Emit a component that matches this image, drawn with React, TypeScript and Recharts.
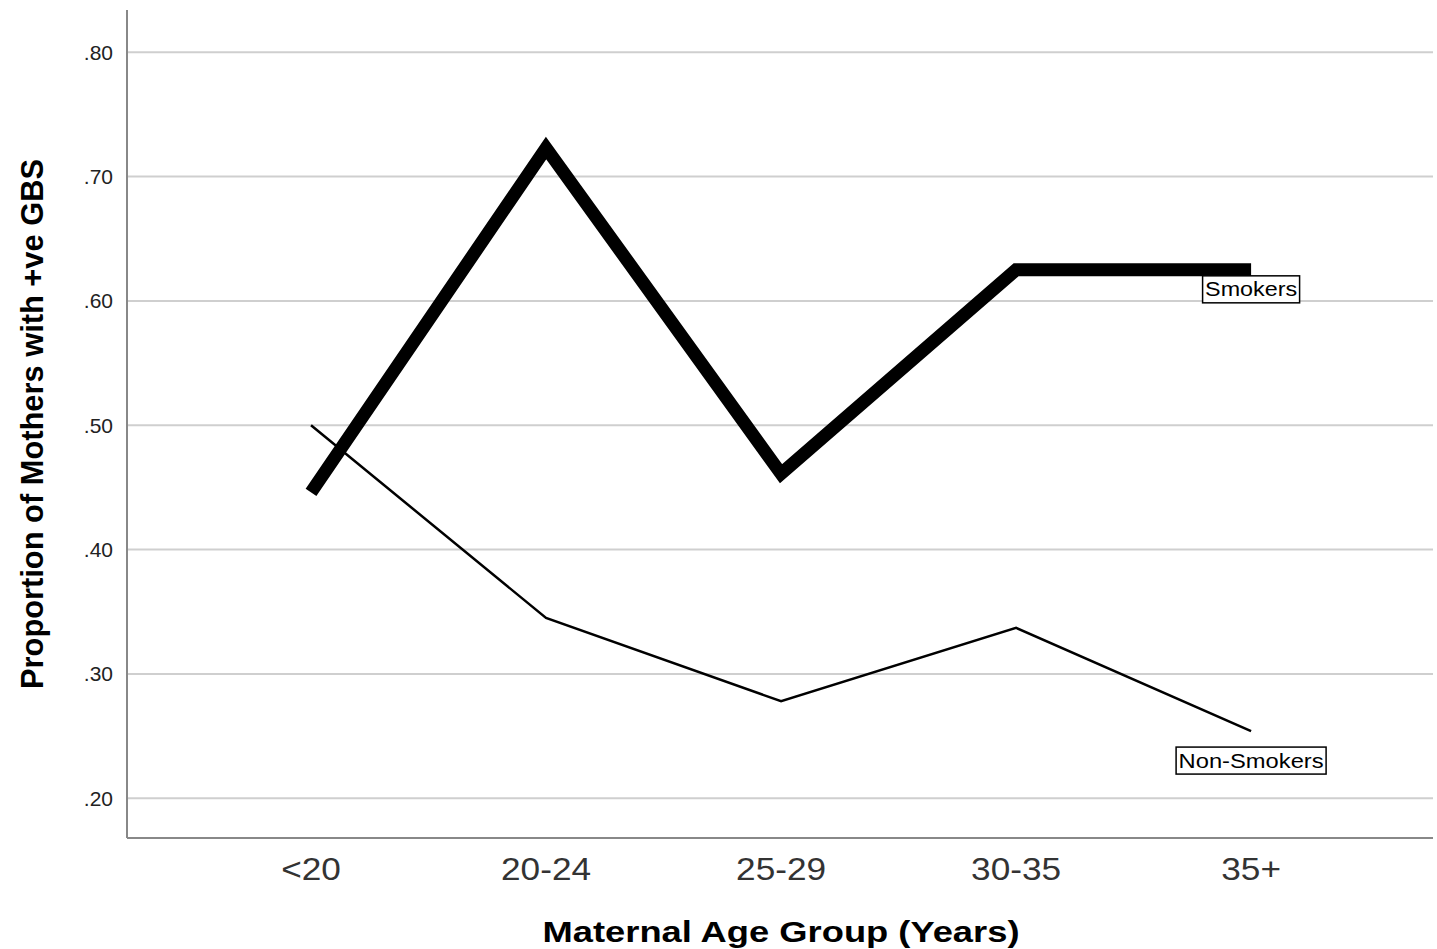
import React from 'react';
import { LineChart, Line, XAxis, YAxis, CartesianGrid, LabelList } from 'recharts';

if (typeof document !== 'undefined') {
  document.body.style.margin = '0';
}

const categories = ['<20', '20-24', '25-29', '30-35', '35+'];
const smokers = [0.446, 0.723, 0.461, 0.625, 0.625];
const nonSmokers = [0.5, 0.345, 0.278, 0.337, 0.254];
const yTicks = [0.2, 0.3, 0.4, 0.5, 0.6, 0.7, 0.8];

const data = categories.map((c, i) => ({
  idx: i,
  cat: c,
  smokers: smokers[i],
  nonSmokers: nonSmokers[i],
}));

const FONT = '"Liberation Sans", Arial, sans-serif';

const makeEndLabel = (text: string, w: number, dy: number) => (props: any) => {
  const { x, y, index } = props;
  if (index !== categories.length - 1) return null;
  const h = 27;
  return (
    <g>
      <rect x={x - w / 2} y={y + dy} width={w} height={h} fill="#fff" stroke="#000" strokeWidth={1.5} />
      <text
        x={x}
        y={y + dy + h / 2 + 7}
        textAnchor="middle"
        fontFamily={FONT}
        fontSize={20}
        fill="#000"
        textLength={w - 5}
        lengthAdjust="spacingAndGlyphs"
      >
        {text}
      </text>
    </g>
  );
};

const XTick = (props: any) => {
  const { x, y, payload } = props;
  return (
    <g transform={`translate(${x}, ${y})`}>
      <text
        x={0}
        y={0}
        dy={22}
        textAnchor="middle"
        fontFamily={FONT}
        fontSize={32}
        fill="#333"
        transform="scale(1.1, 1)"
      >
        {categories[payload.value]}
      </text>
    </g>
  );
};

export default function App() {
  return (
    <div style={{ width: 1437, height: 949, background: '#fff' }}>
      <LineChart width={1437} height={949} data={data} margin={{ top: 10, right: 4, bottom: 0, left: 0 }}>
        <CartesianGrid
          horizontal
          vertical={false}
          syncWithTicks
          stroke="#cfcfcf"
          strokeWidth={2}
        />
        <XAxis
          dataKey="idx"
          type="number"
          domain={[-0.783, 4.774]}
          ticks={[0, 1, 2, 3, 4]}
          height={111}
          axisLine={{ stroke: '#888', strokeWidth: 2 }}
          tickLine={false}
          tick={<XTick />}
          tickMargin={14}
          allowDataOverflow
          label={(p: any) => {
            const vb = p.viewBox || {};
            return (
              <text
                x={(vb.x ?? 127) + (vb.width ?? 1306) / 2 + 1}
                y={942}
                textAnchor="middle"
                fontFamily={FONT}
                fontWeight="bold"
                fontSize={29}
                fill="#000"
                textLength={477}
                lengthAdjust="spacingAndGlyphs"
              >
                Maternal Age Group (Years)
              </text>
            );
          }}
        />
        <YAxis
          type="number"
          domain={[0.168, 0.834]}
          ticks={yTicks}
          allowDataOverflow
          width={127}
          axisLine={{ stroke: '#888', strokeWidth: 2 }}
          tickLine={false}
          tickMargin={8}
          tick={{ fontFamily: FONT, fontSize: 21, fill: '#222' }}
          tickFormatter={(v: number) => v.toFixed(2).replace(/^0/, '')}
          label={(p: any) => {
            const vb = p.viewBox || {};
            const cy = (vb.y ?? 10) + (vb.height ?? 828) / 2;
            return (
              <text
                x={43}
                y={cy}
                transform={`rotate(-90, 43, ${cy})`}
                textAnchor="middle"
                fontFamily={FONT}
                fontWeight="bold"
                fontSize={32}
                fill="#000"
                textLength={530}
                lengthAdjust="spacingAndGlyphs"
              >
                Proportion of Mothers with +ve GBS
              </text>
            );
          }}
        />
        <Line
          dataKey="nonSmokers"
          stroke="#000"
          strokeWidth={2.5}
          dot={false}
          isAnimationActive={false}
          strokeLinejoin="miter"
        >
          <LabelList dataKey="nonSmokers" content={makeEndLabel('Non-Smokers', 150, 16)} />
        </Line>
        <Line
          dataKey="smokers"
          stroke="#000"
          strokeWidth={13}
          dot={false}
          isAnimationActive={false}
          strokeLinejoin="miter"
          strokeLinecap="butt"
        >
          <LabelList dataKey="smokers" content={makeEndLabel('Smokers', 97, 6)} />
        </Line>
      </LineChart>
    </div>
  );
}
